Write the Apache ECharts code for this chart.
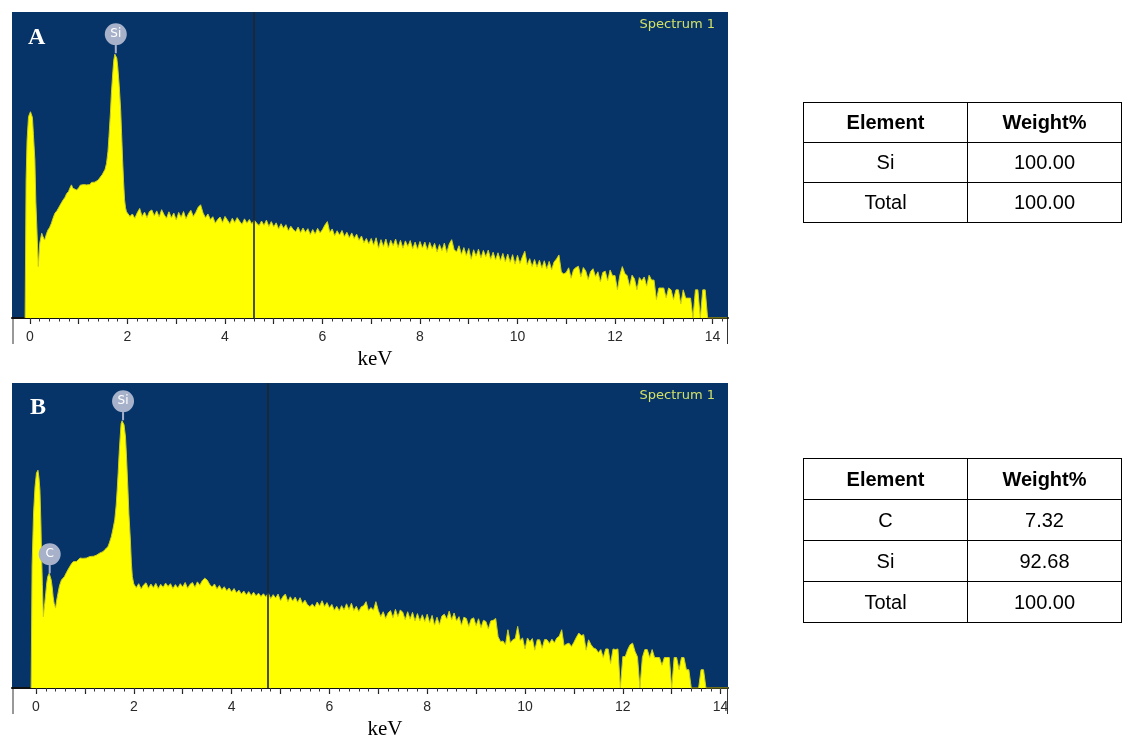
<!DOCTYPE html>
<html>
<head>
<meta charset="utf-8">
<script src="https://cdn.jsdelivr.net/npm/echarts@6/dist/echarts.min.js"></script>
<style>
  html, body { margin: 0; padding: 0; background: #fff; }
  #wrap { position: relative; width: 1122px; height: 743px; overflow: hidden; }
  #chart { position: absolute; left: 0; top: 0; width: 1122px; height: 743px; }
  table.eds { position: absolute; border-collapse: collapse; font-family: "Liberation Sans", Arial, sans-serif; font-size: 20px; color: #000; }
  table.eds td, table.eds th { border: 1.5px solid #000; text-align: center; padding: 0; }
  table.eds th { font-weight: bold; }
</style>
</head>
<body>
<div id="wrap">
  <div id="chart"></div>
</div>
<script>
// ---------- Data ----------
// Spectrum A: [energy keV, counts (relative, full scale = 100)]
const spectrumA = [
[-0.10,0],[-0.08,45],[-0.06,58],[-0.03,65.8],[0.01,67.4],[0.05,65.5],[0.07,60],[0.10,51.6],[0.12,38],[0.14,29.8],[0.17,16.8],
[0.20,24.4],[0.24,27.7],[0.27,26.5],[0.30,25.5],[0.34,27.6],[0.37,28.8],[0.40,29.5],[0.44,31],[0.47,32.5],[0.51,34.2],
[0.55,35.0],[0.58,35.8],[0.62,36.4],[0.65,37.8],[0.68,38.6],[0.72,39.5],[0.75,40.6],[0.79,41.3],[0.82,42.5],[0.85,43.5],
[0.88,42.4],[0.92,42.9],[0.96,41.8],[1.00,42.6],[1.03,43.4],[1.06,42.9],[1.10,43.6],[1.13,43.0],[1.16,43.5],[1.20,44.1],
[1.23,43.6],[1.26,44.3],[1.30,44.6],[1.33,44.4],[1.36,45.0],[1.40,45.1],[1.44,46.0],[1.48,46.8],[1.50,47.3],[1.54,48.6],
[1.57,50.5],[1.60,54.5],[1.62,59.2],[1.65,67],[1.67,73.4],[1.70,80.5],[1.72,84.3],[1.74,86.2],[1.76,86.5],[1.78,85],
[1.80,82.1],[1.83,76],[1.86,68],[1.88,60],[1.90,51.6],[1.92,44.5],[1.94,38.6],[1.96,36.0],[1.98,34.7],
[2.00,34.7],[2.05,33.2],[2.10,34.0],[2.15,32.6],[2.20,34.4],[2.25,35.8],[2.30,33.2],[2.35,34.6],[2.40,32.8],[2.45,34.8],
[2.50,35.3],[2.55,33.4],[2.60,35.0],[2.65,33.0],[2.70,35.4],[2.75,33.8],[2.80,32.6],[2.85,34.7],[2.90,32.8],[2.95,34.3],
[3.00,32.0],[3.05,34.5],[3.10,32.9],[3.15,34.8],[3.20,32.4],[3.25,34.1],[3.30,35.2],[3.35,33.2],[3.40,34.5],[3.45,36.2],
[3.50,37.0],[3.55,34.3],[3.60,32.8],[3.65,34.0],[3.70,32.2],[3.75,33.1],[3.80,31.0],[3.85,32.2],[3.90,33.0],[3.95,31.2],
[4.00,33.2],[4.05,32.0],[4.10,30.8],[4.15,32.6],[4.20,31.2],[4.25,32.8],[4.30,31.6],[4.35,30.6],[4.40,32.4],[4.45,31.0],
[4.50,32.2],[4.55,30.7],[4.60,32.0],[4.65,31.0],[4.70,30.2],[4.75,31.7],[4.80,30.3],[4.85,32.0],[4.90,29.9],[4.95,31.5],
[5.00,29.8],[5.05,31.1],[5.10,29.1],[5.15,30.8],[5.20,29.3],[5.25,30.5],[5.30,28.5],[5.35,30.0],[5.40,28.9],[5.45,28.2],
[5.50,29.7],[5.55,27.9],[5.60,29.4],[5.65,28.0],[5.70,29.2],[5.75,27.3],[5.80,28.9],[5.85,27.4],[5.90,29.3],[5.95,27.8],
[6.00,28.9],[6.05,30.4],[6.10,31.5],[6.15,28.0],[6.20,29.1],[6.25,26.9],[6.30,28.5],[6.35,27.1],[6.40,28.6],[6.45,26.6],
[6.50,28.0],[6.55,26.2],[6.60,27.8],[6.65,26.0],[6.70,27.4],[6.75,25.4],[6.80,26.8],[6.85,24.6],[6.90,26.0],[6.95,24.2],
[7.00,26.0],[7.05,23.8],[7.10,26.2],[7.15,22.8],[7.20,25.6],[7.25,23.4],[7.30,25.8],[7.35,22.9],[7.40,25.4],[7.45,23.6],
[7.50,25.8],[7.55,23.0],[7.60,25.4],[7.65,22.8],[7.70,25.2],[7.75,23.4],[7.80,25.3],[7.85,22.6],[7.90,24.8],[7.95,22.5],
[8.00,25.0],[8.05,22.9],[8.10,24.8],[8.15,22.2],[8.20,24.7],[8.25,22.6],[8.30,24.4],[8.35,21.6],[8.40,24.0],[8.45,22.0],
[8.50,24.5],[8.55,21.4],[8.60,24.2],[8.65,25.6],[8.70,22.4],[8.75,21.6],[8.80,23.6],[8.85,20.8],[8.90,23.0],[8.95,20.4],
[9.00,22.7],[9.05,19.2],[9.10,22.3],[9.15,20.2],[9.20,22.5],[9.25,19.6],[9.30,22.1],[9.35,20.0],[9.40,22.2],[9.45,19.2],
[9.50,21.5],[9.55,19.0],[9.60,21.3],[9.65,18.8],[9.70,21.1],[9.75,18.4],[9.80,20.9],[9.85,18.2],[9.90,20.7],[9.95,17.6],
[10.00,20.5],[10.05,17.8],[10.10,20.0],[10.15,21.8],[10.20,17.4],[10.25,19.4],[10.30,16.8],[10.35,19.1],[10.40,16.6],[10.45,18.9],
[10.50,16.3],[10.55,18.7],[10.60,16.0],[10.65,18.5],[10.70,15.8],[10.75,18.3],[10.80,19.3],[10.85,20.6],[10.90,15.0],[10.95,14.4],
[11.00,14.9],[11.05,16.4],[11.10,13.0],[11.15,15.8],[11.20,16.5],[11.25,16.9],[11.30,13.4],[11.35,16.5],[11.40,15.4],[11.45,12.6],
[11.50,15.2],[11.55,16.1],[11.60,13.6],[11.65,15.1],[11.70,11.8],[11.75,14.9],[11.80,15.3],[11.85,12.2],[11.90,15.7],[11.95,13.8],
[12.00,13.9],[12.05,9.2],[12.10,14.0],[12.15,16.8],[12.20,14.6],[12.25,13.8],[12.30,10.4],[12.35,14.0],[12.40,12.8],[12.45,9.2],
[12.50,13.2],[12.55,12.2],[12.60,13.4],[12.65,10.4],[12.70,14.0],[12.75,12.4],[12.80,12.4],[12.85,6.0],[12.90,9.8],[12.95,9.8],
[13.00,9.8],[13.05,6.6],[13.10,9.8],[13.15,9.2],[13.20,6.0],[13.25,9.2],[13.30,9.2],[13.35,4.6],[13.40,9.2],[13.45,6.5],
[13.50,6.5],[13.55,6.5],[13.60,0],[13.65,9.2],[13.70,9.2],[13.75,0],[13.80,9.2],[13.85,9.2],[13.90,0],[14.30,0]
];

// Spectrum B
const spectrumB = [
[-0.10,0],[-0.08,40],[-0.05,57.4],[-0.02,66],[0.01,70.5],[0.04,71.4],[0.06,69],[0.08,64.9],[0.10,54],[0.11,46.3],[0.13,34],[0.15,23.4],
[0.18,28],[0.20,31.2],[0.22,34.5],[0.24,36.5],[0.27,37.6],[0.29,37.2],[0.31,35.5],[0.33,33.2],[0.35,30],[0.37,27.8],[0.40,26.2],
[0.42,28.5],[0.45,31.1],[0.48,33.5],[0.52,35.4],[0.55,35.8],[0.58,36.5],[0.62,37.8],[0.65,38.7],[0.69,39.8],[0.72,40.6],[0.76,41.4],
[0.80,41.9],[0.83,41.5],[0.86,42.0],[0.90,42.6],[0.93,42.1],[0.96,42.5],[1.00,42.9],[1.03,42.6],[1.07,43.2],[1.10,43.1],[1.14,43.5],
[1.18,43.2],[1.21,43.8],[1.24,43.6],[1.28,44.0],[1.31,44.3],[1.34,44.1],[1.37,44.7],[1.41,45.4],[1.44,45.8],[1.47,46.3],[1.50,47.6],
[1.54,49.6],[1.57,51.8],[1.61,55.1],[1.64,60],[1.66,64.9],[1.68,70.5],[1.70,76.9],[1.72,82],[1.74,86.7],[1.76,87.6],[1.78,87.8],
[1.80,86.3],[1.83,82.3],[1.85,76],[1.88,64.9],[1.90,57],[1.93,48.5],[1.95,41],[1.97,36.5],[2.00,34.1],
[2.05,32.9],[2.10,34.2],[2.15,32.5],[2.20,33.8],[2.25,34.5],[2.30,32.7],[2.35,34.1],[2.40,32.9],[2.45,34.3],[2.50,32.6],
[2.55,34.0],[2.60,33.0],[2.65,34.4],[2.70,33.3],[2.75,34.2],[2.80,32.6],[2.85,33.9],[2.90,32.8],[2.95,34.2],[3.00,33.1],
[3.05,34.6],[3.10,32.7],[3.15,34.0],[3.20,34.6],[3.25,33.0],[3.30,34.8],[3.35,33.7],[3.40,35.2],[3.45,36.0],[3.50,35.4],
[3.55,34.0],[3.60,33.1],[3.65,34.1],[3.70,32.5],[3.75,33.6],[3.80,32.2],[3.85,33.2],[3.90,31.9],[3.95,32.8],[4.00,31.5],
[4.05,32.6],[4.10,31.2],[4.15,32.1],[4.20,30.8],[4.25,31.8],[4.30,30.5],[4.35,31.6],[4.40,30.3],[4.45,31.4],[4.50,30.2],
[4.55,31.1],[4.60,30.0],[4.65,30.9],[4.70,29.9],[4.75,31.1],[4.80,29.3],[4.85,30.6],[4.90,29.5],[4.95,30.8],[5.00,28.6],
[5.05,30.0],[5.10,30.8],[5.15,28.3],[5.20,29.9],[5.25,28.5],[5.30,29.8],[5.35,28.1],[5.40,29.6],[5.45,27.7],[5.50,28.8],
[5.55,27.3],[5.60,26.7],[5.65,27.5],[5.70,26.5],[5.75,28.2],[5.80,26.9],[5.85,28.6],[5.90,26.7],[5.95,28.0],[6.00,26.3],
[6.05,27.4],[6.10,25.5],[6.15,26.8],[6.20,25.3],[6.25,27.0],[6.30,25.6],[6.35,27.6],[6.40,25.7],[6.45,27.8],[6.50,25.4],
[6.55,26.8],[6.60,25.1],[6.65,26.6],[6.70,27.0],[6.75,28.3],[6.80,25.3],[6.85,26.4],[6.90,25.5],[6.95,28.3],[7.00,25.4],
[7.05,23.4],[7.10,25.0],[7.15,22.8],[7.20,24.6],[7.25,25.4],[7.30,23.0],[7.35,25.8],[7.40,23.4],[7.45,25.6],[7.50,24.8],
[7.55,22.4],[7.60,25.0],[7.65,22.6],[7.70,24.8],[7.75,22.0],[7.80,24.4],[7.85,22.0],[7.90,24.0],[7.95,21.8],[8.00,24.2],
[8.05,21.4],[8.10,23.8],[8.15,20.6],[8.20,23.2],[8.25,20.8],[8.30,23.6],[8.35,24.2],[8.40,22.6],[8.45,25.2],[8.50,22.4],
[8.55,24.6],[8.60,22.0],[8.65,23.4],[8.70,20.6],[8.75,23.2],[8.80,22.8],[8.85,20.2],[8.90,22.6],[8.95,23.0],[9.00,20.4],
[9.05,22.7],[9.10,19.8],[9.15,22.2],[9.20,21.8],[9.25,19.4],[9.30,22.0],[9.35,22.2],[9.40,22.8],[9.45,16.8],[9.50,15.2],
[9.55,15.4],[9.60,14.2],[9.65,19.1],[9.70,14.8],[9.75,15.8],[9.80,16.2],[9.85,20.2],[9.90,15.6],[9.95,16.4],[10.00,12.8],
[10.05,16.4],[10.10,15.2],[10.15,16.2],[10.20,12.4],[10.25,15.8],[10.30,15.8],[10.35,13.0],[10.40,15.9],[10.45,15.8],[10.50,14.6],
[10.55,16.0],[10.60,14.8],[10.65,16.4],[10.70,17.0],[10.75,19.1],[10.80,13.8],[10.85,14.4],[10.90,14.7],[10.95,13.6],[11.00,15.0],
[11.05,16.6],[11.10,18.0],[11.15,17.2],[11.20,17.5],[11.25,12.4],[11.30,15.8],[11.35,14.2],[11.40,13.1],[11.45,12.8],[11.50,11.6],
[11.55,12.6],[11.60,10.0],[11.65,12.8],[11.70,12.8],[11.75,8.0],[11.80,12.8],[11.85,12.6],[11.90,12.8],[11.95,0],[12.00,10.3],
[12.05,10.3],[12.10,12.6],[12.15,14.2],[12.20,14.7],[12.25,12.0],[12.30,10.2],[12.35,0],[12.40,10.0],[12.45,12.6],[12.50,12.6],
[12.55,10.0],[12.60,12.6],[12.65,10.0],[12.70,10.0],[12.75,10.0],[12.80,7.5],[12.85,10.0],[12.90,10.0],[12.95,10.0],[13.00,0],
[13.05,10.0],[13.10,10.0],[13.15,6.0],[13.20,10.0],[13.25,10.0],[13.30,6.0],[13.35,6.0],[13.40,0],[13.55,0],[13.60,6.0],
[13.65,6.0],[13.70,0],[14.15,0]
];

// Element marker labels on the spectra
const peakNamesA = ['Si'];
const peakKeVA   = [1.76];
const peakCntA   = [86.5];
const peakNamesB = ['C', 'Si'];
const peakKeVB   = [0.28, 1.78];
const peakCntB   = [37.6, 87.8];

// Cursor line position (keV)
const cursorA = 4.60;
const cursorB = 4.73;

// Axis tick labels (keV)
const tickLabels = [0, 2, 4, 6, 8, 10, 12, 14];

// Quantification tables
const tableElementsA = ['Si', 'Total'];
const tableWeightsA  = ['100.00', '100.00'];
const tableElementsB = ['C', 'Si', 'Total'];
const tableWeightsB  = ['7.32', '92.68', '100.00'];

// ---------- Chart ----------
const majorTicks = [];
for (let v = 0; v <= 14; v++) majorTicks.push(v);
const minorTicks = [];
for (let i = 0; i <= 71; i++) minorTicks.push(Math.round(i * 0.2 * 100) / 100);

const BLUE = '#063468';
const YELLOW = '#ffff00';

const gridA = { left: 12, top: 12, width: 716, height: 306 };
const gridB = { left: 12, top: 383, width: 716, height: 305 };

function mainAxis(gridIndex, min, max, namePad) {
  return {
    type: 'value', gridIndex: gridIndex, min: min, max: max,
    position: 'bottom',
    axisLine: { show: true, onZero: false, lineStyle: { color: '#111', width: 2 } },
    axisTick: { show: true, customValues: majorTicks, length: 6, lineStyle: { color: '#222', width: 1.2 } },
    axisLabel: { show: true, customValues: tickLabels, margin: 12, fontSize: 14,
                 fontFamily: 'Liberation Sans, Arial, sans-serif', color: '#2a2a2a' },
    splitLine: { show: false },
    name: 'keV', nameLocation: 'middle', nameGap: 31,
    nameTextStyle: { fontFamily: 'Liberation Serif, Times New Roman, serif', fontSize: 21, color: '#000',
                     padding: [0, 0, 0, namePad] }
  };
}
function minorAxis(gridIndex, min, max) {
  return {
    type: 'value', gridIndex: gridIndex, min: min, max: max,
    position: 'bottom',
    axisLine: { show: false, onZero: false },
    axisTick: { show: true, customValues: minorTicks, length: 3.5, lineStyle: { color: '#333', width: 1 } },
    axisLabel: { show: false },
    splitLine: { show: false }
  };
}
function yAx(gridIndex) {
  return { type: 'value', gridIndex: gridIndex, min: 0, max: 100, show: false,
           axisLine: { show: false }, splitLine: { show: false } };
}

const markerPath = 'path://M0 11 A11 11 0 1 1 22 11 A11 11 0 1 1 0 11 Z M10 20 L12 20 L12 30 L10 30 Z';
function markers(names, kev, cnt) {
  return {
    symbol: markerPath,
    symbolSize: [22, 30],
    symbolOffset: [0, -15],
    itemStyle: { color: '#a7b2ca' },
    label: { show: true, position: 'inside', offset: [0, -4], color: '#ffffff', fontSize: 12,
             fontFamily: 'DejaVu Sans, Arial, sans-serif', formatter: function (p) { return p.name; } },
    data: names.map(function (n, i) { return { name: n, coord: [kev[i], cnt[i]] }; })
  };
}
function cursor(x) {
  return {
    silent: true, symbol: ['none', 'none'],
    lineStyle: { color: '#1e2630', width: 1.6, type: 'solid' },
    label: { show: false },
    data: [{ xAxis: x }]
  };
}
function spectrumSeries(data, xIdx, yIdx, names, kev, cnt, cur) {
  return {
    type: 'line', xAxisIndex: xIdx, yAxisIndex: yIdx, data: data,
    showSymbol: false, symbol: 'none', smooth: false, sampling: 'none',
    lineStyle: { color: '#cccc22', width: 1 },
    areaStyle: { color: YELLOW, opacity: 1 },
    markPoint: markers(names, kev, cnt),
    markLine: cursor(cur),
    z: 2
  };
}

const chart = echarts.init(document.getElementById('chart'), null, { renderer: 'canvas' });
chart.setOption({
  animation: false,
  backgroundColor: '#ffffff',
  title: [
    { text: 'Spectrum 1', right: 402, top: 13,
      textStyle: { color: '#d2e068', fontSize: 13, fontWeight: 'normal', fontFamily: 'DejaVu Sans, Verdana, sans-serif' } },
    { text: 'Spectrum 1', right: 402, top: 384,
      textStyle: { color: '#d2e068', fontSize: 13, fontWeight: 'normal', fontFamily: 'DejaVu Sans, Verdana, sans-serif' } }
  ],
  grid: [
    Object.assign({ show: true, backgroundColor: BLUE, borderWidth: 0, containLabel: false, outerBoundsMode: 'none' }, gridA),
    Object.assign({ show: true, backgroundColor: BLUE, borderWidth: 0, containLabel: false, outerBoundsMode: 'none' }, gridB)
  ],
  xAxis: [
    mainAxis(0, -0.369, 14.318, 10),
    minorAxis(0, -0.369, 14.318),
    mainAxis(1, -0.491, 14.151, 30),
    minorAxis(1, -0.491, 14.151)
  ],
  yAxis: [yAx(0), yAx(1)],
  series: [
    spectrumSeries(spectrumA, 0, 0, peakNamesA, peakKeVA, peakCntA, cursorA),
    spectrumSeries(spectrumB, 2, 1, peakNamesB, peakKeVB, peakCntB, cursorB)
  ],
  graphic: [
    { type: 'text', left: 28, top: 26, style: { text: 'A', fill: '#ffffff', font: 'bold 24px "Liberation Serif", "Times New Roman", serif' }, z: 10 },
    { type: 'text', left: 30, top: 396, style: { text: 'B', fill: '#ffffff', font: 'bold 24px "Liberation Serif", "Times New Roman", serif' }, z: 10 },
    { type: 'line', shape: { x1: 13, y1: 318, x2: 13, y2: 344 }, style: { stroke: '#333', lineWidth: 1 } },
    { type: 'line', shape: { x1: 727.5, y1: 318, x2: 727.5, y2: 344 }, style: { stroke: '#333', lineWidth: 1 } },
    { type: 'line', shape: { x1: 13, y1: 688, x2: 13, y2: 714 }, style: { stroke: '#333', lineWidth: 1 } },
    { type: 'line', shape: { x1: 727.5, y1: 688, x2: 727.5, y2: 714 }, style: { stroke: '#333', lineWidth: 1 } }
  ]
});

// ---------- Tables ----------
function buildTable(elements, weights, left, top, rowH) {
  const t = document.createElement('table');
  t.className = 'eds';
  t.style.left = left + 'px';
  t.style.top = top + 'px';
  const head = document.createElement('tr');
  head.style.height = rowH + 'px';
  ['Element', 'Weight%'].forEach(function (h, i) {
    const th = document.createElement('th');
    th.textContent = h;
    th.style.width = (i === 0 ? 163 : 153) + 'px';
    head.appendChild(th);
  });
  t.appendChild(head);
  elements.forEach(function (el, i) {
    const tr = document.createElement('tr');
    tr.style.height = rowH + 'px';
    const a = document.createElement('td'); a.textContent = el;
    const b = document.createElement('td'); b.textContent = weights[i];
    tr.appendChild(a); tr.appendChild(b);
    t.appendChild(tr);
  });
  document.getElementById('wrap').appendChild(t);
}
buildTable(tableElementsA, tableWeightsA, 803, 102, 40);
buildTable(tableElementsB, tableWeightsB, 803, 458, 41);
</script>
</body>
</html>
